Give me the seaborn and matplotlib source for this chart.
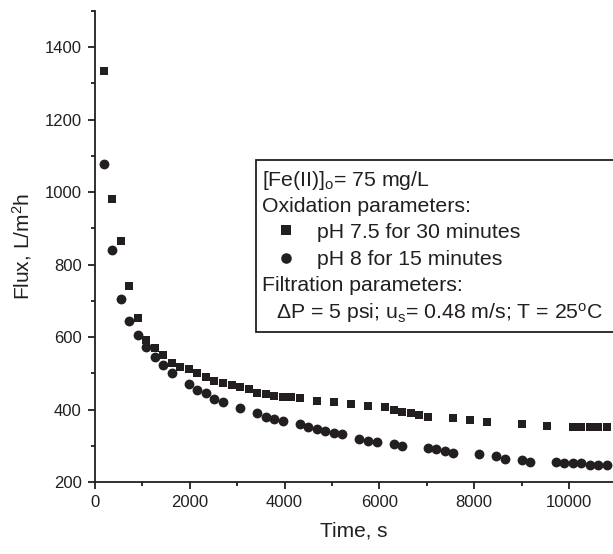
import numpy as np
import pandas as pd
import matplotlib
matplotlib.use("Agg")
import matplotlib.pyplot as plt
from matplotlib.patches import Rectangle
from matplotlib.ticker import MultipleLocator
import seaborn as sns

# ---------- Data ----------
time_ph75 = [180, 360, 540, 720, 900, 1080, 1260, 1440, 1620, 1800, 1980, 2160,
             2340, 2520, 2700, 2880, 3060, 3240, 3420, 3600, 3780, 3960, 4140,
             4320, 4680, 5040, 5400, 5760, 6120, 6300, 6480, 6660, 6840, 7020,
             7560, 7920, 8280, 9000, 9540, 10080, 10260, 10440, 10620, 10800]
flux_ph75 = [1335, 981, 865, 741, 654, 592, 569, 550, 529, 518, 511, 500,
             489, 479, 474, 468, 461, 456, 446, 443, 437, 435, 435,
             432, 424, 421, 415, 410, 406, 399, 394, 390, 386, 380,
             376, 370, 366, 360, 354, 351, 351, 351, 351, 351]

time_ph8 = [180, 360, 540, 720, 900, 1080, 1260, 1440, 1620, 1980, 2160, 2340,
            2520, 2700, 3060, 3420, 3600, 3780, 3960, 4320, 4500, 4680, 4860,
            5040, 5220, 5580, 5760, 5940, 6300, 6480, 7020, 7200, 7380, 7560,
            8100, 8460, 8640, 9000, 9180, 9720, 9900, 10080, 10260, 10440,
            10620, 10800]
flux_ph8 = [1079, 840, 704, 645, 605, 573, 544, 522, 500, 470, 454, 445,
            428, 420, 404, 390, 380, 374, 369, 360, 353, 345, 340,
            336, 332, 319, 314, 310, 304, 300, 295, 290, 286, 281,
            276, 272, 264, 261, 256, 256, 252, 252, 252, 246,
            246, 246]

series_labels = ["pH 7.5 for 30 minutes", "pH 8 for 15 minutes"]
box_lines = [r"[Fe(II)]$_\mathregular{o}$= 75 mg/L",
             "Oxidation parameters:",
             series_labels[0],
             series_labels[1],
             "Filtration parameters:",
             r"ΔP = 5 psi; u$_\mathregular{s}$= 0.48 m/s; T = 25$^\mathregular{o}$C"]

df = pd.concat([
    pd.DataFrame({"Time": time_ph75, "Flux": flux_ph75, "Run": series_labels[0]}),
    pd.DataFrame({"Time": time_ph8, "Flux": flux_ph8, "Run": series_labels[1]}),
])

# ---------- Style ----------
sns.set_style("ticks")
plt.rcParams["font.family"] = ["Liberation Sans", "DejaVu Sans"]
plt.rcParams["mathtext.default"] = "regular"
ink = "#231f20"

fig = plt.figure(figsize=(6.13, 5.54), dpi=100)
ax = fig.add_axes([95 / 613, 1 - 482 / 554, 518 / 613, 471 / 554])

marker_map = {series_labels[0]: "s", series_labels[1]: "o"}
size_map = {series_labels[0]: 36, series_labels[1]: 50}
for run in series_labels:
    sub = df[df["Run"] == run]
    sns.scatterplot(data=sub, x="Time", y="Flux", marker=marker_map[run],
                    s=size_map[run], color=ink, linewidth=0, legend=False, ax=ax,
                    clip_on=False, zorder=3)

ax.set_xlim(0, 10928)
ax.set_ylim(200, 1500)
ax.xaxis.set_major_locator(MultipleLocator(2000))
ax.xaxis.set_minor_locator(MultipleLocator(1000))
ax.yaxis.set_minor_locator(MultipleLocator(100))
ax.set_yticks(np.arange(200, 1401, 200))

sns.despine(ax=ax)
for side in ["left", "bottom"]:
    ax.spines[side].set_linewidth(1.3)
    ax.spines[side].set_color(ink)
ax.tick_params(which="major", direction="out", length=5, width=1.3,
               color=ink, labelsize=12, labelcolor=ink, pad=4.5)
ax.tick_params(which="minor", direction="out", length=3, width=1.3, color=ink)

ax.set_xlabel("Time, s", fontsize=15, color=ink, labelpad=8)
ax.set_ylabel(r"Flux, L/m$^2$h", fontsize=15, color=ink, labelpad=8)

# ---------- Annotation box ----------
def ax_x(px):
    return (px - 95) / 518

def ax_y(py):
    return (482 - py) / 471

ax.add_patch(Rectangle((ax_x(256), ax_y(332)), 1.2, ax_y(160) - ax_y(332),
                       transform=ax.transAxes, facecolor="white", edgecolor=ink,
                       linewidth=1.3, clip_on=True, zorder=4))

baseline_px = [186, 212, 238, 265, 291, 319]
indent_px = [262, 262, 317, 317, 262, 276]
for txt, ypx, xpx in zip(box_lines, baseline_px, indent_px):
    ax.text(ax_x(xpx), ax_y(ypx), txt, transform=ax.transAxes,
            fontsize=15.3, color=ink, va="baseline", ha="left", zorder=5)

for run, ypx in [(series_labels[0], 230), (series_labels[1], 258)]:
    ax.scatter([ax_x(286)], [ax_y(ypx)], marker=marker_map[run],
               s=size_map[run] + 8, color=ink, linewidth=0,
               transform=ax.transAxes, zorder=5)

fig.savefig("out.png", dpi=100)
